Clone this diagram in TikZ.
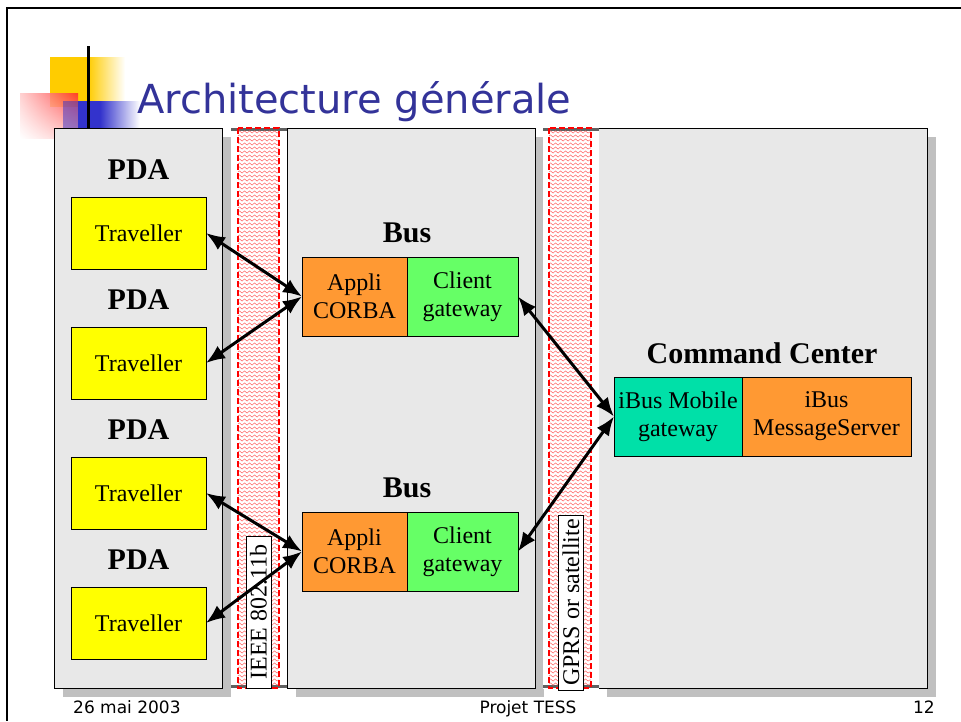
\documentclass[tikz,border=0pt]{standalone}
\usepackage{fontspec}
\setmainfont{Liberation Serif}
\newfontfamily\slidefont{DejaVu Sans}
\usetikzlibrary{positioning,arrows.meta,shadows,shadings,decorations.pathmorphing}
\definecolor{panelgray}{RGB}{232,232,232}
\definecolor{shadowgray}{RGB}{192,192,192}
\definecolor{edgegray}{RGB}{96,96,96}
\definecolor{travelleryellow}{RGB}{255,255,0}
\definecolor{appliorange}{RGB}{255,153,51}
\definecolor{clientgreen}{RGB}{102,255,102}
\definecolor{mobileteal}{RGB}{0,224,168}
\definecolor{titleblue}{RGB}{51,51,153}
\definecolor{logoyellow}{RGB}{255,204,0}
\definecolor{logored}{RGB}{255,40,40}
\definecolor{logoblue}{RGB}{51,51,204}
\definecolor{wavepink}{RGB}{255,110,110}

\begin{document}
\begin{tikzpicture}[x=1pt, y=-1pt, node distance=58pt,
    panel/.style={rectangle, draw=black, line width=1.2pt, fill=panelgray, anchor=north west, inner sep=0pt,
        drop shadow={shadow xshift=8pt, shadow yshift=-8pt, fill=shadowgray, opacity=1}},
    unit/.style={rectangle, draw=black, line width=0.8pt, outer sep=0pt, inner sep=0pt, align=center,
        font=\fontsize{24}{28}\selectfont},
    heading/.style={font=\bfseries\fontsize{30}{34}\selectfont, inner sep=0pt},
    linkbase/.style={rectangle, fill=white, anchor=north west, minimum width=56pt, minimum height=561pt, inner sep=0pt},
    wave/.style={draw=wavepink, line width=0.55pt, decorate, decoration={snake, amplitude=1.1pt, segment length=5pt}},
    radioedge/.style={draw=red, line width=1.3pt, dash pattern=on 6pt off 3pt},
    striplabel/.style={rectangle, draw=black, fill=white, line width=0.8pt, rotate=90, minimum height=25pt,
        inner sep=0pt, font=\fontsize{24}{26}\selectfont},
    link/.style={{Latex[length=19pt,width=15pt]}-{Latex[length=19pt,width=15pt]}, line width=3pt},
    footer/.style={font=\slidefont\fontsize{17}{20}\selectfont, inner sep=0pt}]
    \useasboundingbox (0,0) rectangle (961,721);

    % Slide frame and logo
    \draw[line width=2pt] (961,8) -- (7,8) -- (7,721);
    \fill[logoyellow] (50,57) rectangle (88,107);
    \shade[left color=logoyellow, right color=white] (88,57) rectangle (125,107);
    \shade[upper right=logored, upper left=logored!25, lower right=logored!30, lower left=white, opacity=0.85] (20,93) rectangle (78,138);
    \fill[logoblue, opacity=0.5] (63,101) rectangle (78,128);
    \fill[logoblue] (78,101) rectangle (100,128);
    \shade[left color=logoblue, right color=white] (100,101) rectangle (140,128);
    \draw[line width=3pt] (88,46) -- (88,128);
    \node[anchor=base west, inner sep=0pt, text=titleblue, font=\slidefont\fontsize{40}{44}\selectfont] (title) at (137,113) {Architecture générale};

    % Panels
    \node[panel, minimum width=168pt, minimum height=560pt] (pdapanel) at (54,128) {};
    \node[panel, minimum width=248pt, minimum height=560pt] (buspanel) at (287,128) {};
    \node[panel, minimum width=329pt, minimum height=560pt] (ccpanel) at (598,128) {};

    % Radio links between the panels
    \node[linkbase] (wifi) at (231,128) {};
    \node[linkbase] (gprs) at (543,128) {};
    \foreach \name in {wifi, gprs} {
        \draw[edgegray, line width=3pt] ([yshift=-1.5pt]\name.north west) -- ([yshift=-1.5pt]\name.north east);
        \draw[edgegray, line width=3pt] ([yshift=3pt]\name.south west) -- ([yshift=3pt]\name.south east);
    }
    \foreach \y in {132,136,...,684} {
        \draw[wave] (238,\y) -- (279,\y);
        \draw[wave] (549,\y) -- (591,\y);
    }
    \draw[radioedge] (238,128) rectangle (279,688);
    \draw[radioedge] (549,128) rectangle (591,688);
    \node[striplabel, minimum width=152pt] (wifilabel) at (258.5,612) {IEEE 802.11b};
    \node[striplabel, minimum width=175pt] (gprslabel) at (571,602.5) {GPRS or satellite};

    % PDA side
    \node[unit, fill=travelleryellow, minimum width=135pt, minimum height=72pt] (trav1) at (138.5,233) {Traveller};
    \node[unit, fill=travelleryellow, minimum width=135pt, minimum height=72pt, below=of trav1] (trav2) {Traveller};
    \node[unit, fill=travelleryellow, minimum width=135pt, minimum height=72pt, below=of trav2] (trav3) {Traveller};
    \node[unit, fill=travelleryellow, minimum width=135pt, minimum height=72pt, below=of trav3] (trav4) {Traveller};
    \foreach \i in {1,...,4}
        \node[heading, above=17pt of trav\i] (pda\i) {PDA};

    % Buses
    \node[unit, fill=appliorange, minimum width=105pt, minimum height=79pt] (appli1) at (354.5,296.5) {Appli\\CORBA};
    \node[unit, fill=clientgreen, minimum width=111pt, minimum height=79pt, right=0pt of appli1] (client1) {Client\\gateway};
    \node[unit, fill=appliorange, minimum width=105pt, minimum height=79pt] (appli2) at (354.5,551.5) {Appli\\CORBA};
    \node[unit, fill=clientgreen, minimum width=111pt, minimum height=79pt, right=0pt of appli2] (client2) {Client\\gateway};
    \node[heading, above=14pt of appli1.north east] (bus1) {Bus};
    \node[heading, above=14pt of appli2.north east] (bus2) {Bus};

    % Command center
    \node[unit, fill=mobileteal, minimum width=128pt, minimum height=79pt] (mobile) at (678,416.5) {iBus Mobile\\gateway};
    \node[unit, fill=appliorange, minimum width=169pt, minimum height=79pt, right=0pt of mobile] (msgserver) {iBus\\MessageServer};
    \node[heading] (cclabel) at (762,353) {Command Center};

    % Links
    \draw[link] (trav1.east) -- (appli1.west);
    \draw[link] (trav2.east) -- (appli1.west);
    \draw[link] (trav3.east) -- (appli2.west);
    \draw[link] (trav4.east) -- (appli2.west);
    \draw[link] (client1.east) -- (mobile.west);
    \draw[link] (client2.east) -- (mobile.west);

    % Footer
    \node[footer, anchor=base west] (date) at (73,713) {26 mai 2003};
    \node[footer, anchor=base] (project) at (528,713) {Projet TESS};
    \node[footer, anchor=base east] (page) at (935,713) {12};
\end{tikzpicture}
\end{document}
